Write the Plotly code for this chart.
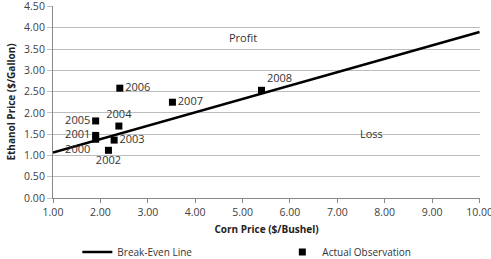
import plotly.graph_objects as go

# Data
line_x = [1.0, 10.0]
line_y = [1.07, 3.90]

years = ["2000", "2001", "2002", "2003", "2004", "2005", "2006", "2007", "2008"]
corn = [1.90, 1.90, 2.17, 2.29, 2.39, 1.90, 2.41, 3.52, 5.40]
ethanol = [1.38, 1.47, 1.12, 1.36, 1.69, 1.81, 2.58, 2.25, 2.53]
label_pos = ["bottom left", "middle left", "bottom center", "middle right", "top center",
             "middle left", "middle right", "middle right", "top right"]

x_ticks = [1, 2, 3, 4, 5, 6, 7, 8, 9, 10]
y_ticks = [0, 0.5, 1, 1.5, 2, 2.5, 3, 3.5, 4, 4.5]

FONT = "Open Sans"

fig = go.Figure()
fig.add_trace(go.Scatter(
    x=line_x, y=line_y, mode="lines", name="Break-Even Line",
    line=dict(color="black", width=2.5),
))
fig.add_trace(go.Scatter(
    x=corn, y=ethanol, mode="markers+text", name="Actual Observation",
    marker=dict(symbol="square", color="black", size=7),
    text=years, textposition=label_pos,
    textfont=dict(family=FONT, size=11, color="#333333"),
))

fig.add_annotation(x=5.0, y=3.77, text="Profit", showarrow=False,
                   font=dict(family=FONT, size=11, color="#333333"))
fig.add_annotation(x=7.72, y=1.52, text="Loss", showarrow=False,
                   font=dict(family=FONT, size=11, color="#333333"))

fig.update_layout(
    width=491, height=259,
    margin=dict(l=53, r=11, t=6, b=61, autoexpand=False),
    paper_bgcolor="white", plot_bgcolor="white",
    font=dict(family=FONT, size=11, color="#404040"),
    showlegend=True,
    legend=dict(orientation="h", x=0.057, y=0.027, xanchor="left", yanchor="middle",
                yref="container",
                entrywidth=160, entrywidthmode="pixels",
                font=dict(family=FONT, size=10, color="#333333"),
                itemwidth=30, tracegroupgap=0),
    xaxis=dict(range=[1, 10.01], tickvals=x_ticks, ticktext=[f"{v:.2f}" for v in x_ticks],
               showgrid=False, zeroline=False, showline=True, linecolor="#888888",
               ticks="outside", ticklen=4, tickcolor="#888888", ticklabeloverflow="allow",
               tickfont=dict(size=10.5),
               title=dict(text="<b>Corn Price ($/Bushel)</b>", font=dict(family=FONT, size=10, color="#222222"), standoff=8)),
    yaxis=dict(range=[0, 4.51], tickvals=y_ticks, ticktext=[f"{v:.2f}" for v in y_ticks],
               showgrid=True, gridcolor="#bdbdbd", gridwidth=1, zeroline=False,
               showline=True, linecolor="#888888",
               ticks="outside", ticklen=5, tickcolor="#bdbdbd", ticklabeloverflow="allow",
               tickfont=dict(size=10.5),
               title=dict(text="<b>Ethanol Price ($/Gallon)</b>", font=dict(family=FONT, size=10, color="#222222"), standoff=6)),
)

fig.write_html("out.html")
